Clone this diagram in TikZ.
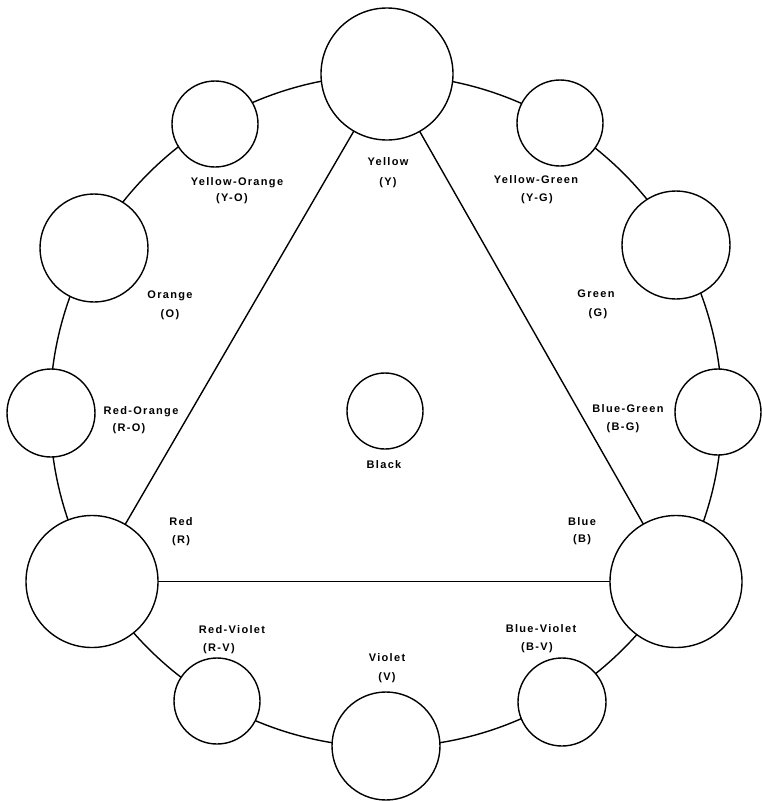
\documentclass[tikz,border=0pt]{standalone}
\usepackage{fontspec}
\setmainfont{Liberation Sans}[LetterSpace=12]
\begin{document}
\begin{tikzpicture}[x=1pt,y=-1pt,
  ln/.style={line width=1.4pt},
  disc/.style={circle,draw,line width=1.4pt,fill=white,inner sep=0pt,outer sep=0pt,minimum size=#1},
  lbl/.style={font=\bfseries\fontsize{11}{13}\selectfont,inner sep=0pt,text height=7.9pt,text depth=0pt}]
\useasboundingbox (0,0) rectangle (762,801);
% ring through the colour discs
\draw[ln] (386,411) circle[radius=336pt];
% discs
\node[disc=132pt] (Y)  at (387,74)  {};
\node[disc=86pt]  (YO) at (215,124) {};
\node[disc=108pt] (O)  at (94,248)  {};
\node[disc=88pt]  (RO) at (51,413)  {};
\node[disc=132pt] (R)  at (92,581.5) {};
\node[disc=86pt]  (RV) at (217,701) {};
\node[disc=108pt] (V)  at (386,746) {};
\node[disc=88pt]  (BV) at (562,702) {};
\node[disc=132pt] (B)  at (676,581.5) {};
\node[disc=86pt]  (BG) at (718,412) {};
\node[disc=108pt] (G)  at (676,245) {};
\node[disc=86pt]  (YG) at (560,123) {};
\node[disc=76pt]  (K)  at (385,411) {};
% primary triangle
\draw[ln] (Y) -- (R);
\draw[ln] (R) -- (B);
\draw[ln] (B) -- (Y);
% labels
\node[lbl] (tY)  at (388,162) {Yellow};
\node[lbl] (tY2) at (388,182) {(Y)};
\node[lbl] (tYO) at (237,182) {Yellow-Orange};
\node[lbl] (tYO2) at (232,198) {(Y-O)};
\node[lbl] (tYG) at (536,180) {Yellow-Green};
\node[lbl] (tYG2) at (537,198) {(Y-G)};
\node[lbl] (tO)  at (170,295) {Orange};
\node[lbl] (tO2) at (170,314) {(O)};
\node[lbl] (tG)  at (596,294) {Green};
\node[lbl] (tG2) at (598,313) {(G)};
\node[lbl] (tRO) at (141,411) {Red-Orange};
\node[lbl] (tRO2) at (129,428) {(R-O)};
\node[lbl] (tBG) at (628,409) {Blue-Green};
\node[lbl] (tBG2) at (623,427) {(B-G)};
\node[lbl] (tK)  at (384,465) {Black};
\node[lbl] (tR)  at (181,522) {Red};
\node[lbl] (tR2) at (181,540) {(R)};
\node[lbl] (tB)  at (582,522) {Blue};
\node[lbl] (tB2) at (582,539) {(B)};
\node[lbl] (tRV) at (232,630) {Red-Violet};
\node[lbl] (tRV2) at (219,648) {(R-V)};
\node[lbl] (tV)  at (387,658) {Violet};
\node[lbl] (tV2) at (387,677) {(V)};
\node[lbl] (tBV) at (541,629) {Blue-Violet};
\node[lbl] (tBV2) at (537,647) {(B-V)};
\end{tikzpicture}
\end{document}
